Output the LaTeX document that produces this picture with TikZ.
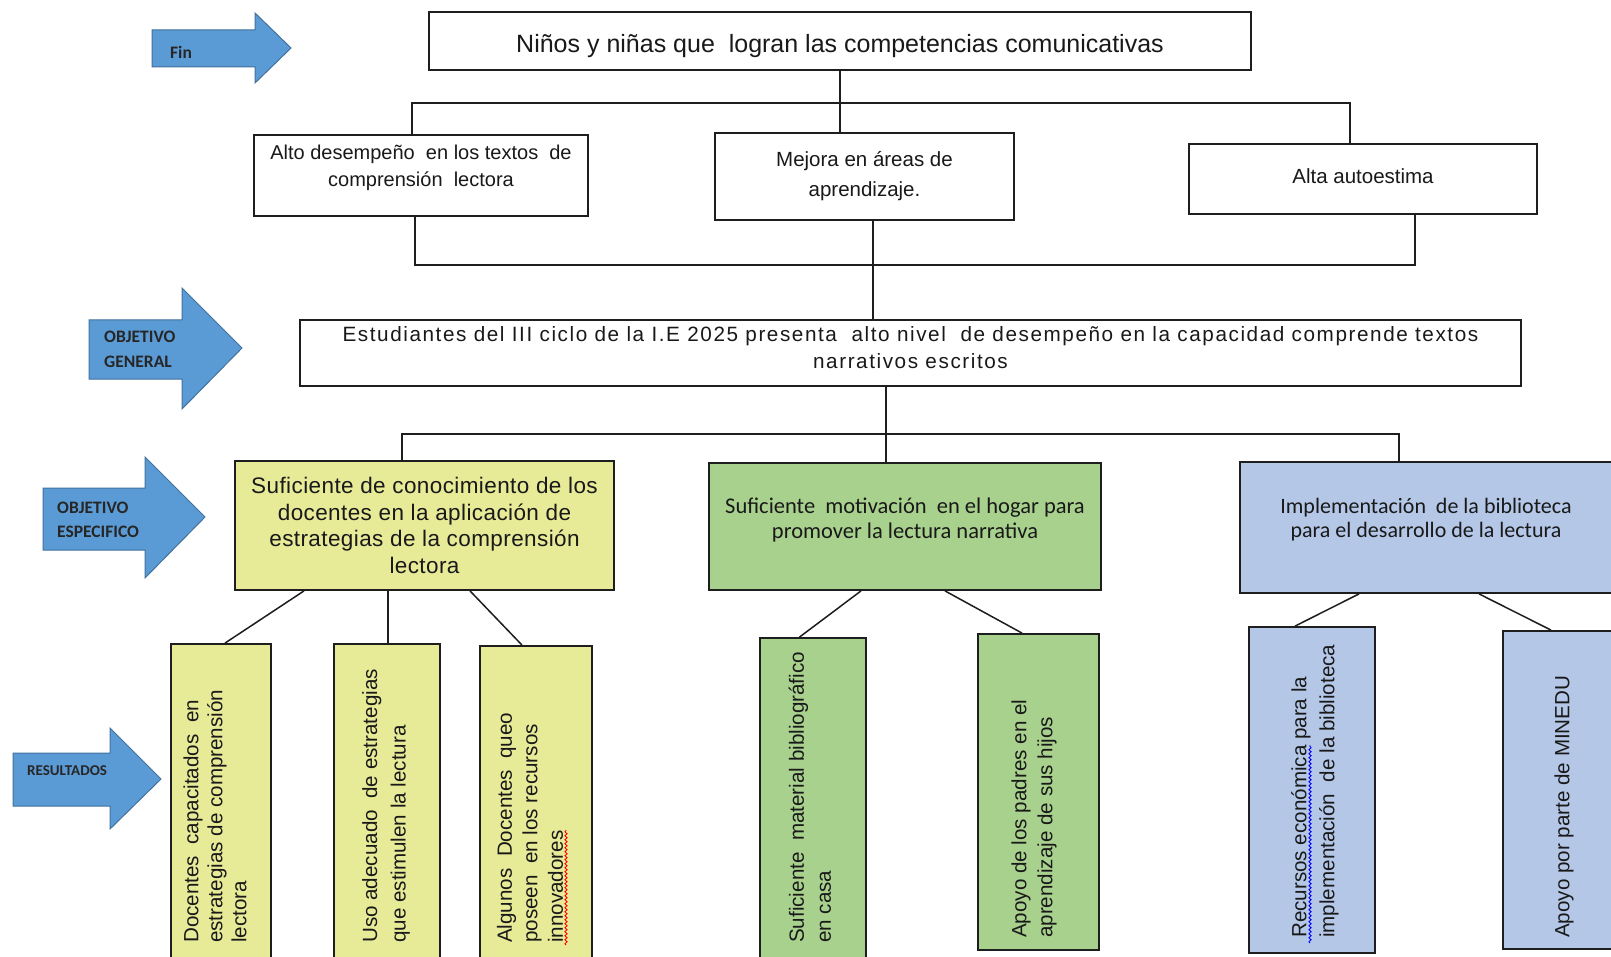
\documentclass[tikz,border=0pt]{standalone}
\usepackage{fontspec}
\setmainfont{Liberation Sans}
\newfontfamily\calibfont{Carlito}
\newfontfamily\widefont[LetterSpace=7.6]{Liberation Sans}
\newfontfamily\yelfont[LetterSpace=1.8]{Liberation Sans}
\usetikzlibrary{positioning,decorations.pathmorphing}
\definecolor{arrowblue}{RGB}{91,155,213}
\definecolor{arrowedge}{RGB}{65,113,156}
\definecolor{yelfill}{RGB}{231,235,152}
\definecolor{grnfill}{RGB}{169,209,142}
\definecolor{blufill}{RGB}{180,199,231}
\definecolor{inkline}{RGB}{30,30,30}
\tikzset{
  box/.style={draw=inkline, line width=1.8pt, fill=white, align=center,
              inner sep=0pt, text=black!90},
  resbox/.style={draw=inkline, line width=1.8pt, inner sep=0pt},
  restext/.style={rotate=90, anchor=west, align=left, inner sep=0pt, text=black!90,
              font=\fontsize{20.6}{26}\selectfont},
  link/.style={draw=inkline, line width=1.5pt},
  blockarrow/.style={fill=arrowblue, draw=arrowedge, line width=1pt},
  tag/.style={anchor=west, align=left, inner sep=0pt, text=black!85,
              font=\calibfont\bfseries\fontsize{17.5}{24.5}\selectfont},
  squiggle/.style={line width=0.9pt, decorate,
              decoration={snake, amplitude=1.1pt, segment length=4pt}},
}

\begin{document}
\begin{tikzpicture}[x=1pt, y=-1pt]
  \useasboundingbox (0,0) rectangle (1611,957);
  \clip (0,0) rectangle (1611,957);
  \fill[white] (0,0) rectangle (1611,957);

  % level arrows
  \draw[blockarrow] (152,30) -- (255,30) -- (255,13) -- (291,48) -- (255,83) -- (255,67) -- (152,67) -- cycle;
  \draw[blockarrow] (89,320) -- (182,320) -- (182,288) -- (242,348) -- (182,409) -- (182,379) -- (89,379) -- cycle;
  \draw[blockarrow] (43,488) -- (145,488) -- (145,457) -- (205,517) -- (145,578) -- (145,550) -- (43,550) -- cycle;
  \draw[blockarrow] (13,753) -- (110,753) -- (110,728) -- (161,779) -- (110,829) -- (110,806) -- (13,806) -- cycle;
  \node[tag] (finlbl) at (170,52) {Fin};
  \node[tag] (oglbl) at (104,349.5) {OBJETIVO\\GENERAL};
  \node[tag] (oelbl) at (57,520) {OBJETIVO\\ESPECIFICO};
  \node[tag, font=\calibfont\bfseries\fontsize{15}{16}\selectfont] (reslbl) at (27,771) {RESULTADOS};

  % fin and its effects
  \node[box, minimum width=822, minimum height=58, text height=29pt, font=\fontsize{25}{30}\selectfont] (goal) at (840,41)
    {Niños y niñas que\ \ logran las competencias comunicativas};
  \node[box, minimum width=334, minimum height=81, text depth=20pt, font=\fontsize{20}{27}\selectfont] (fA) at (421,175.5)
    {Alto desempeño\ \ en los textos\ \ de\\comprensión\ \ lectora};
  \node[box, minimum width=299, minimum height=87, font=\fontsize{20.5}{30}\selectfont] (fB) at (864.5,176.5)
    {Mejora en áreas de\\aprendizaje.};
  \node[box, minimum width=348, minimum height=70, text depth=6pt, font=\fontsize{20.5}{25}\selectfont] (fC) at (1363,179)
    {Alta autoestima};

  % objetivo general
  \node[box, minimum width=1221, minimum height=66, text depth=12pt, font=\widefont\fontsize{20.7}{27}\selectfont] (og) at (910.5,353)
    {Estudiantes del III ciclo de la I.E 2025 presenta\ \ alto nivel\ \ de desempeño en la capacidad comprende textos\\narrativos escritos};

  % objetivos especificos
  \node[box, fill=yelfill, minimum width=379, minimum height=129, font=\yelfont\fontsize{22.5}{26.5}\selectfont] (y1) at (424.5,525.5)
    {Suficiente de conocimiento de los\\docentes en la aplicación de\\estrategias de la comprensión\\lectora};
  \node[box, fill=grnfill, minimum width=392, minimum height=127, text depth=17pt, font=\calibfont\fontsize{22.5}{24.5}\selectfont] (g1) at (905,526.5)
    {Suficiente\ \ motivación\ \ en el hogar para\\promover la lectura narrativa};
  \node[box, fill=blufill, minimum width=372, minimum height=131, text depth=19pt, font=\calibfont\fontsize{22}{24.5}\selectfont] (b1) at (1426,527.5)
    {Implementación\ \ de la biblioteca\\para el desarrollo de la lectura};

  % resultados
  \node[resbox, fill=yelfill, minimum width=100, minimum height=326] (r1) at (221,807) {};
  \node[resbox, fill=yelfill, minimum width=106, minimum height=326] (r2) at (387,807) {};
  \node[resbox, fill=yelfill, minimum width=112, minimum height=324] (r3) at (536,808) {};
  \node[resbox, fill=grnfill, minimum width=106, minimum height=332] (r4) at (813,804) {};
  \node[resbox, fill=grnfill, minimum width=121, minimum height=316] (r5) at (1038.5,792) {};
  \node[resbox, fill=blufill, minimum width=126, minimum height=326] (r6) at (1312,790) {};
  \node[resbox, fill=blufill, minimum width=122, minimum height=318] (r7) at (1564,790) {};

  \node[restext, font=\fontsize{20.6}{24}\selectfont] (r1t) at (215,943) {Docentes\ \ capacitados\ \ en\\estrategias de comprensión\\lectora};
  \node[restext, font=\fontsize{20.6}{28.5}\selectfont] (r2t) at (386,943) {Uso adecuado\ \ de estrategias\\que estimulen la lectura};
  \node[restext, font=\fontsize{20.6}{25.5}\selectfont] (r3t) at (530,943) {Algunos\ \ Docentes\ \ queo\\poseen\ \ en los recursos\\innovadores};
  \node[restext, font=\fontsize{20.6}{27}\selectfont] (r4t) at (810,943) {Suficiente\ \ material bibliográfico\\en casa};
  \node[restext] (r5t) at (1034,938) {Apoyo de los padres en el\\aprendizaje de sus hijos};
  \node[restext, font=\fontsize{20.6}{28}\selectfont] (r6t) at (1315,938) {Recursos económica para la\\implementación\ \ de la biblioteca};
  \node[restext] (r7t) at (1564,938) {Apoyo por parte de MINEDU};

  \draw[squiggle, red] (566,945) -- (566,830);
  \draw[squiggle, blue] (1310,943) -- (1310,745);

  % connectors, upper tree
  \coordinate (bar1) at (0,103);
  \coordinate (bar2) at (0,265);
  \coordinate (bar3) at (0,434);
  \coordinate (fAtop) at ([xshift=-9]fA.north);
  \coordinate (fCtop) at ([xshift=-13]fC.north);
  \coordinate (fAbot) at ([xshift=-6]fA.south);
  \coordinate (fCbot) at ([xshift=52]fC.south);
  \coordinate (fBbot) at ([xshift=8.5]fB.south);
  \coordinate (ogbot) at ([xshift=-24.5]og.south);
  \coordinate (y1top) at ([xshift=-22.5]y1.north);
  \coordinate (b1top) at ([xshift=-27]b1.north);
  \draw[link] (goal.south) -- (goal.south |- fB.north);
  \draw[link] (fAtop) -- (fAtop |- bar1) -- (fCtop |- bar1) -- (fCtop);
  \draw[link] (fAbot) -- (fAbot |- bar2) -- (fCbot |- bar2) -- (fCbot);
  \draw[link] (fBbot) -- (fBbot |- og.north);
  \draw[link] (ogbot) -- (ogbot |- g1.north);
  \draw[link] (y1top) -- (y1top |- bar3) -- (b1top |- bar3) -- (b1top);

  % connectors, lower tree
  \draw[link] ([xshift=-120.5]y1.south) -- ([xshift=4]r1.north);
  \draw[link] ([xshift=-36.5]y1.south) -- ([xshift=1]r2.north);
  \draw[link] ([xshift=45.5]y1.south) -- ([xshift=-14]r3.north);
  \draw[link] ([xshift=-44]g1.south) -- ([xshift=-13.5]r4.north);
  \draw[link] ([xshift=40]g1.south) -- ([xshift=-16.5]r5.north);
  \draw[link] ([xshift=-67]b1.south) -- ([xshift=-17]r6.north);
  \draw[link] ([xshift=53]b1.south) -- ([xshift=-13]r7.north);
\end{tikzpicture}
\end{document}
